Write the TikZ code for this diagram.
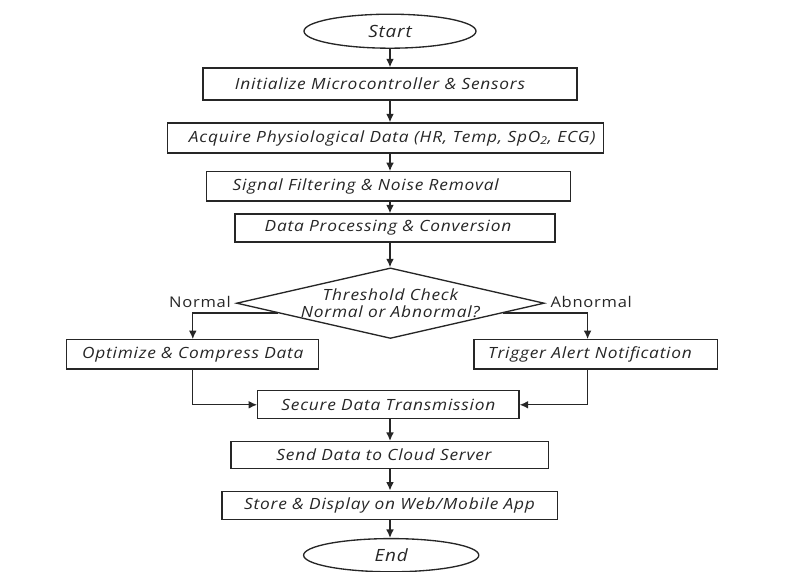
\documentclass[tikz,border=0pt]{standalone}
\usepackage{fontspec}
\setmainfont{Open Sans}
\newfontfamily\flowfont[FakeStretch=1.12, LetterSpace=5]{Open Sans}
\usetikzlibrary{shapes.geometric,arrows.meta}

\begin{document}
\begin{tikzpicture}[>={Latex[length=6pt,width=5.5pt]}, line width=0.95pt, draw=black!85,
    box/.style={draw, rectangle, inner sep=0pt, text=black!85, font=\flowfont\itshape\fontsize{11}{13}\selectfont},
    term/.style={draw, ellipse, inner sep=0pt, minimum width=4.3cm, minimum height=0.85cm, text=black!85, font=\flowfont\itshape\fontsize{12}{14}\selectfont},
    lbl/.style={text=black!85, font=\flowfont\fontsize{10.5}{13}\selectfont}]
    \useasboundingbox (0,0) rectangle (20.25,-14.3);
    \node [term] (start) at (9.75,-0.78) {Start};
    \node [box, minimum width=9.35cm, minimum height=0.8cm] (init) at (9.75,-2.1) {Initialize Microcontroller \& Sensors\hspace*{0.5cm}};
    \node [box, minimum width=10.9cm, minimum height=0.75cm] (acq) at (9.64,-3.45) {\hspace*{0.33cm}Acquire Physiological Data (HR, Temp, SpO\textsubscript{2}, ECG)};
    \node [box, minimum width=9.1cm, minimum height=0.73cm] (filt) at (9.72,-4.66) {Signal Filtering \& Noise Removal\hspace*{1.15cm}};
    \node [box, minimum width=8cm, minimum height=0.7cm] (proc) at (9.875,-5.7) {Data Processing \& Conversion\hspace*{0.35cm}};
    \node [box, diamond, aspect=4.36, minimum width=7.63cm, minimum height=1.75cm, align=center, font=\flowfont\itshape\fontsize{11}{12.5}\selectfont] (check) at (9.76,-7.58) {Threshold Check\\Normal or Abnormal?};
    \node [lbl] (normal) at (5.0,-7.55) {Normal};
    \node [lbl] (abnormal) at (14.78,-7.55) {Abnormal};
    \node [box, minimum width=6.3cm, minimum height=0.73cm] (opt) at (4.82,-8.86) {Optimize \& Compress Data};
    \node [box, minimum width=6.08cm, minimum height=0.73cm] (alert) at (14.89,-8.86) {Trigger Alert Notification\hspace*{0.28cm}};
    \node [box, minimum width=6.53cm, minimum height=0.7cm] (secure) at (9.71,-10.12) {Secure Data Transmission};
    \node [box, minimum width=7.93cm, minimum height=0.68cm] (send) at (9.74,-11.38) {Send Data to Cloud Server\hspace*{0.28cm}};
    \node [box, minimum width=8.38cm, minimum height=0.7cm] (store) at (9.74,-12.63) {Store \& Display on Web/Mobile App};
    \node [term, minimum width=4.38cm, minimum height=0.83cm] (end) at (9.78,-13.88) {End};
    % main column
    \draw [->] (start) -- (start |- init.north);
    \draw [->] (init) -- (init |- acq.north);
    \draw [->] (init |- acq.south) -- (init |- filt.north);
    \draw [->] (init |- filt.south) -- (init |- proc.north);
    \draw [->] (init |- proc.south) -- (init |- check.north);
    % branches
    \draw [->] (check.185) -| (opt.north);
    \draw [->] (check.-5) -| ([xshift=-2mm]alert.north);
    \draw [->] (opt.south) |- (secure.west);
    \draw [->] ([xshift=-2mm]alert.south) |- (secure.east);
    \draw [->] (init |- secure.south) -- (init |- send.north);
    \draw [->] (init |- send.south) -- (init |- store.north);
    \draw [->] (init |- store.south) -- (init |- end.north);
\end{tikzpicture}
\end{document}
